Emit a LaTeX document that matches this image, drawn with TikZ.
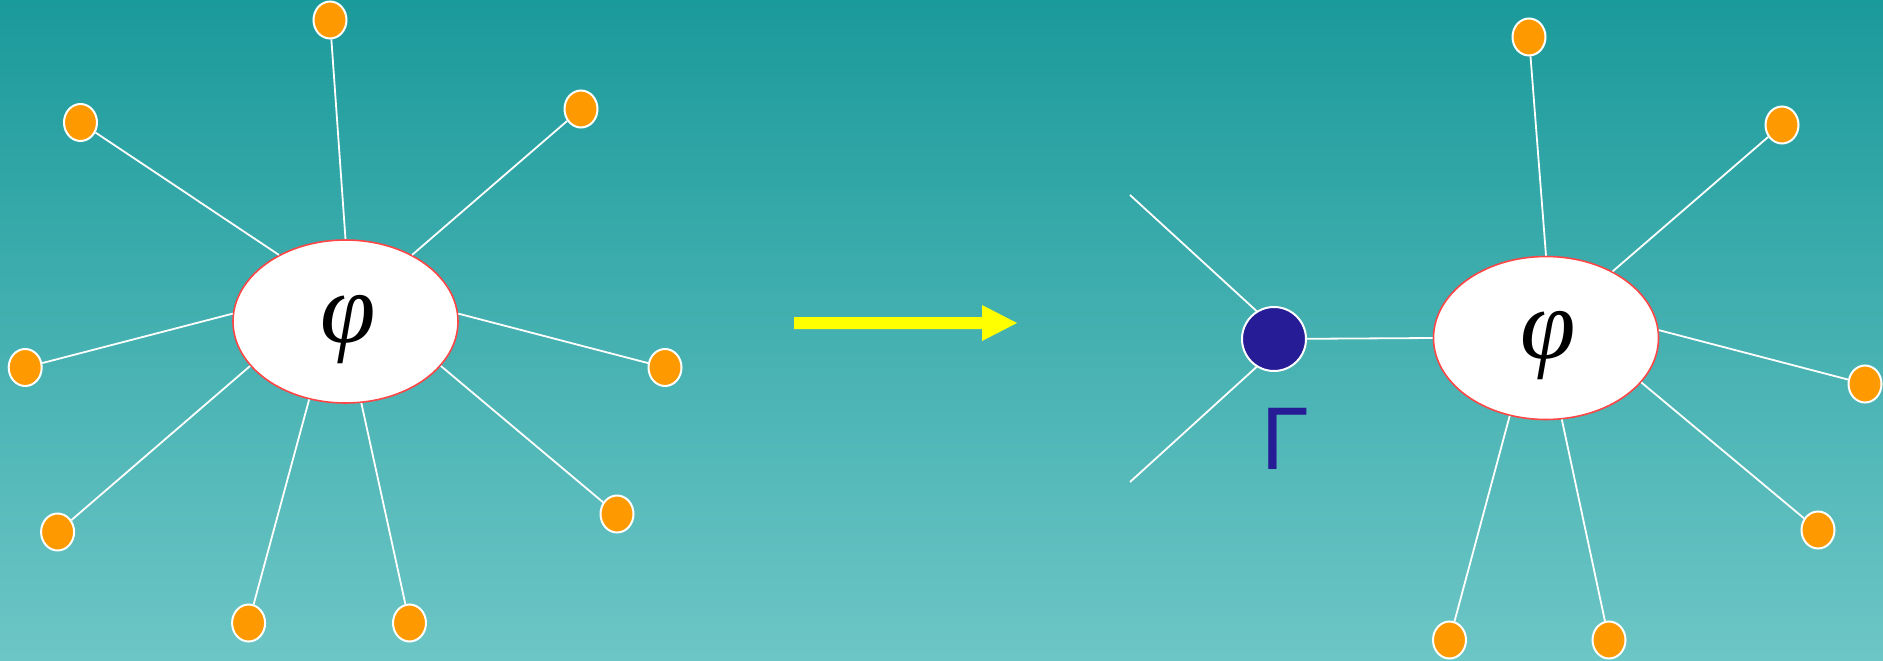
\documentclass[tikz,border=0pt]{standalone}
\usepackage{fontspec}
\newfontfamily\gammafont{DejaVu Sans}
\newfontfamily\phifont{Liberation Serif}
\usetikzlibrary{shapes.geometric}
\definecolor{bgtop}{RGB}{27,154,155}
\definecolor{bgbot}{RGB}{109,198,198}
\definecolor{leaforange}{RGB}{255,153,0}
\definecolor{blobred}{RGB}{255,70,70}
\definecolor{vblue}{RGB}{38,28,150}
\definecolor{arrowyellow}{RGB}{255,255,0}
\begin{document}
\begin{tikzpicture}[x=1pt,y=-1pt,
  leaf/.style={ellipse,draw=white,line width=2pt,fill=leaforange,minimum width=33pt,minimum height=37pt,inner sep=0pt},
  blob/.style={ellipse,draw=blobred,line width=1.6pt,fill=white,minimum width=225pt,minimum height=163pt,inner sep=0pt},
  phitext/.style={inner sep=0pt,font=\phifont\itshape\fontsize{100}{100}\selectfont},
  link/.style={draw=white,line width=1.8pt},
  vertex/.style={circle,draw=white,line width=2pt,fill=vblue,minimum size=64pt,inner sep=0pt}]
\useasboundingbox (0,0) rectangle (1883,661);
\shade[top color=bgtop,bottom color=bgbot] (0,0) rectangle (1883,661);

% left group
\node[blob] (L) at (345.5,321.5) {};
\node[phitext] (phiL) at (348.5,329.5) {φ};
\node[leaf] (a1) at (330,20) {};
\node[leaf] (a2) at (80.5,122.5) {};
\node[leaf] (a3) at (581,109) {};
\node[leaf] (a4) at (25.2,367.5) {};
\node[leaf] (a5) at (665,367.5) {};
\node[leaf] (a6) at (57.6,532) {};
\node[leaf] (a7) at (617,514) {};
\node[leaf] (a8) at (248.6,623) {};
\node[leaf] (a9) at (409.5,623) {};
\draw[link] (a1) -- (L.90.5);
\draw[link] (a2) -- (L.135);
\draw[link] (a3) -- (L.45);
\draw[link] (a4) -- (L.176);
\draw[link] (a5) -- (L.4);
\draw[link] (a6) -- (L.205);
\draw[link] (a7) -- (L.335);
\draw[link] (a8) -- (L.245);
\draw[link] (a9) -- (L.281);

% arrow
\fill[arrowyellow] (794,317) -- (982,317) -- (982,305) -- (1017,323) -- (982,341) -- (982,329) -- (794,329) -- cycle;

% right group
\node[blob] (R) at (1546,338) {};
\node[phitext] (phiR) at (1548.5,345.5) {φ};
\node[leaf] (b1) at (1529,37) {};
\node[leaf] (b3) at (1782,125) {};
\node[leaf] (b5) at (1865,384) {};
\node[leaf] (b7) at (1818,530) {};
\node[leaf] (b8) at (1449.5,640) {};
\node[leaf] (b9) at (1609,640) {};
\draw[link] (b1) -- (R.90.5);
\draw[link] (b3) -- (R.45);
\draw[link] (b5) -- (R.4);
\draw[link] (b7) -- (R.335);
\draw[link] (b8) -- (R.245);
\draw[link] (b9) -- (R.281);

\node[vertex] (V) at (1274,339) {};
\coordinate (f1) at (1130,195);
\coordinate (f2) at (1130,482);
\draw[link] (V) -- (R.west);
\draw[link] (f1) -- (V.122);
\draw[link] (f2) -- (V.238);
\node[inner sep=0pt,text=vblue,font=\gammafont\fontsize{84}{84}\selectfont] (gam) at (1284,438.5) {Γ};
\end{tikzpicture}
\end{document}
